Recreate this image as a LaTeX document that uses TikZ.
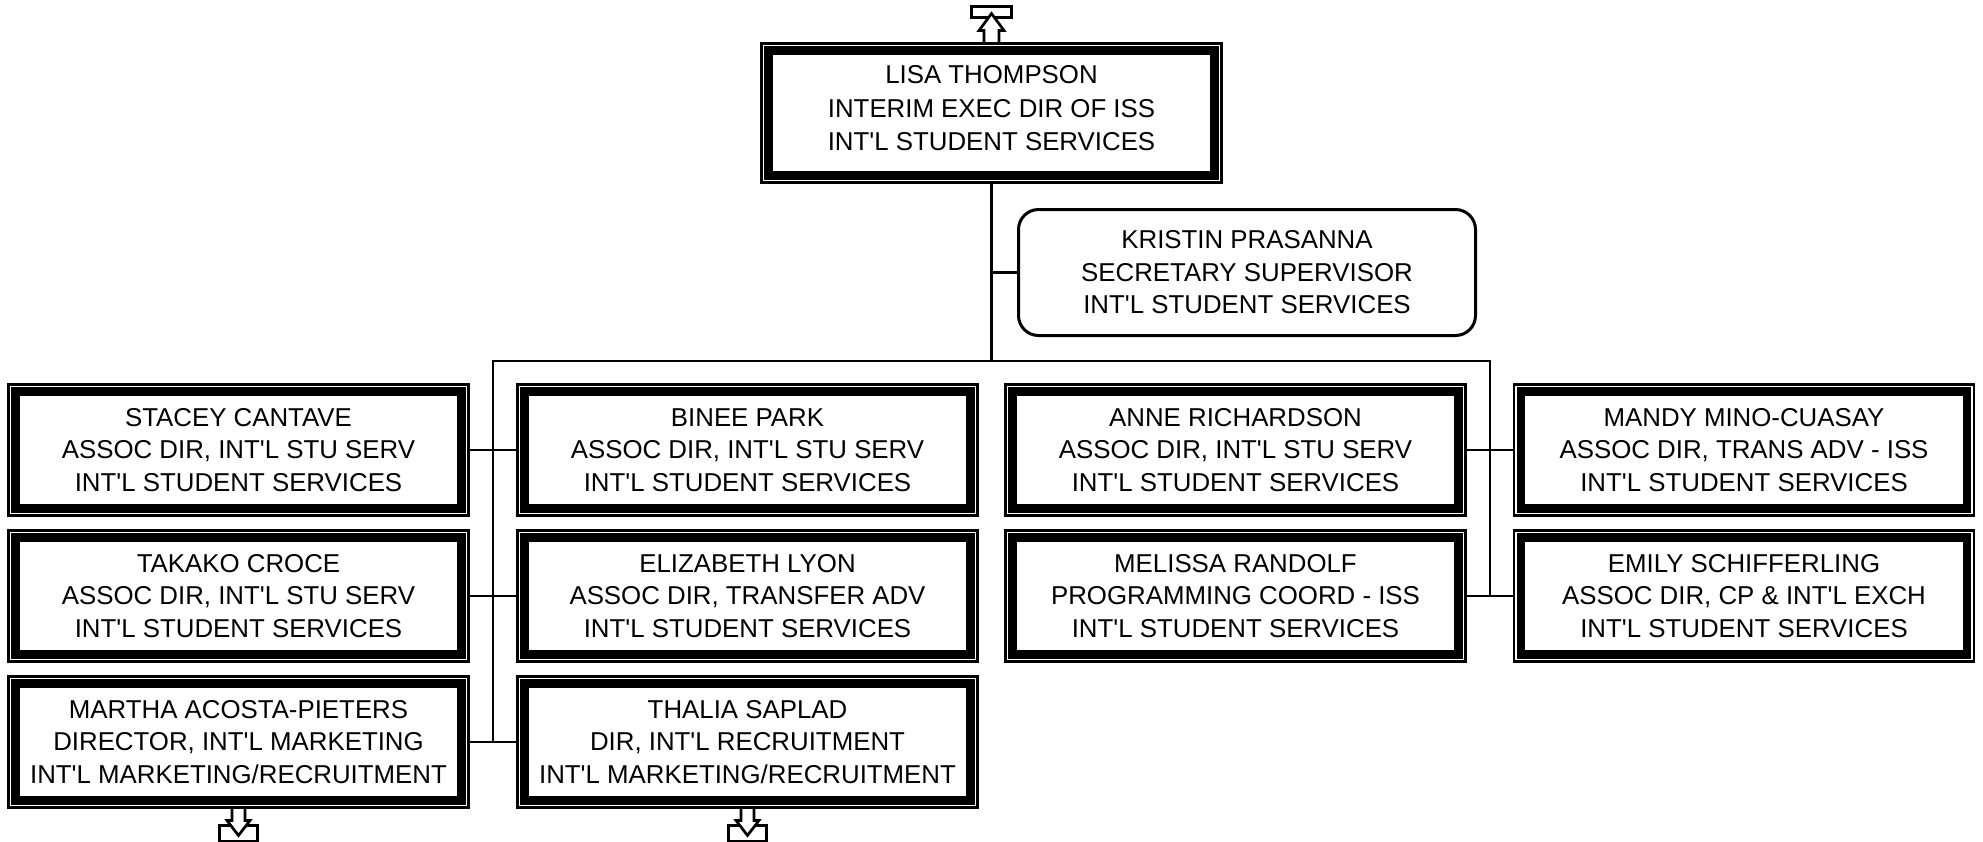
\documentclass[tikz,border=0pt]{standalone}
\usepackage{fontspec}
\setmainfont{Liberation Sans}
\newcommand{\ap}{\textquotesingle}

\tikzset{
  person/.style={draw, line width=0.054cm, fill=white, minimum width=9.2cm,
    minimum height=2.63cm, inner sep=0pt, align=center,
    font=\fontsize{14.7}{18.5}\selectfont},
  band/.style={line width=0.174cm},
  secretary/.style={draw, line width=0.06cm, rounded corners=0.4cm, fill=white,
    minimum width=9.14cm, minimum height=2.52cm, inner sep=0pt, align=center,
    font=\fontsize{14.7}{18.5}\selectfont},
  link/.style={line width=0.045cm},
  tray/.style={line width=0.054cm}
}

\begin{document}
\begin{tikzpicture}
        \useasboundingbox (0,0) rectangle (39.66,-16.82);

        % Director and secretary
        \node[person, minimum height=2.79cm, text depth=0.2cm,
              font=\fontsize{14.7}{19}\selectfont] (lisa) at (19.83,-2.26)
          {LISA THOMPSON\\INTERIM EXEC DIR OF ISS\\INT\ap L STUDENT SERVICES};
        \node[secretary] (kristin) at (24.94,-5.45)
          {KRISTIN PRASANNA\\SECRETARY SUPERVISOR\\INT\ap L STUDENT SERVICES};

        % Left group
        \node[person] (stacey) at (4.77,-9.0)
          {STACEY CANTAVE\\ASSOC DIR, INT\ap L STU SERV\\INT\ap L STUDENT SERVICES};
        \node[person] (binee) at (14.95,-9.0)
          {BINEE PARK\\ASSOC DIR, INT\ap L STU SERV\\INT\ap L STUDENT SERVICES};
        \node[person] (takako) at (4.77,-11.92)
          {TAKAKO CROCE\\ASSOC DIR, INT\ap L STU SERV\\INT\ap L STUDENT SERVICES};
        \node[person] (elizabeth) at (14.95,-11.92)
          {ELIZABETH LYON\\ASSOC DIR, TRANSFER ADV\\INT\ap L STUDENT SERVICES};
        \node[person] (martha) at (4.77,-14.84)
          {MARTHA ACOSTA-PIETERS\\DIRECTOR, INT\ap L MARKETING\\INT\ap L MARKETING/RECRUITMENT};
        \node[person] (thalia) at (14.95,-14.84)
          {THALIA SAPLAD\\DIR, INT\ap L RECRUITMENT\\INT\ap L MARKETING/RECRUITMENT};

        % Right group
        \node[person] (anne) at (24.71,-9.0)
          {ANNE RICHARDSON\\ASSOC DIR, INT\ap L STU SERV\\INT\ap L STUDENT SERVICES};
        \node[person] (mandy) at (34.88,-9.0)
          {MANDY MINO-CUASAY\\ASSOC DIR, TRANS ADV - ISS\\INT\ap L STUDENT SERVICES};
        \node[person] (melissa) at (24.71,-11.92)
          {MELISSA RANDOLF\\PROGRAMMING COORD - ISS\\INT\ap L STUDENT SERVICES};
        \node[person] (emily) at (34.88,-11.92)
          {EMILY SCHIFFERLING\\ASSOC DIR, CP \& INT\ap L EXCH\\INT\ap L STUDENT SERVICES};

        % Thick inner frames
        \foreach \n in {lisa, stacey, binee, takako, elizabeth, martha, thalia,
                        anne, mandy, melissa, emily}
          \draw[band] ([shift={(0.166,-0.166)}]\n.north west)
            rectangle ([shift={(-0.166,0.166)}]\n.south east);

        % Connectors
        \coordinate (busL) at (9.86,-7.22);
        \coordinate (busR) at (29.8,-7.22);
        \draw[link] (lisa.south) -- (lisa.south |- busL);
        \draw[link] (kristin.west) -- (kristin.west -| lisa.south);
        \draw[link] (busL |- martha) -- (busL) -- (busR) -- (busR |- melissa);
        \draw[link] (stacey.east) -- (binee.west);
        \draw[link] (takako.east) -- (elizabeth.west);
        \draw[link] (martha.east) -- (thalia.west);
        \draw[link] (anne.east) -- (mandy.west);
        \draw[link] (melissa.east) -- (emily.west);

        % Off-page markers
        \draw[tray] ([shift={(-0.4,0.487)}]lisa.north)
          rectangle ([shift={(0.4,0.707)}]lisa.north);
        \draw[tray, fill=white] ([xshift=-0.15cm]lisa.north) -- ++(0,0.227)
          -- ++(-0.1,0) -- ++(0.25,0.34) -- ++(0.25,-0.34) -- ++(-0.1,0)
          -- ++(0,-0.227);
        \foreach \n in {martha, thalia} {
          \draw[tray] ([shift={(-0.38,-0.327)}]\n.south)
            rectangle ([shift={(0.38,-0.64)}]\n.south);
          \draw[tray, fill=white] ([xshift=-0.13cm]\n.south) -- ++(0,-0.227)
            -- ++(-0.1,0) -- ++(0.23,-0.3) -- ++(0.23,0.3) -- ++(-0.1,0)
            -- ++(0,0.227);
        }
\end{tikzpicture}
\end{document}
